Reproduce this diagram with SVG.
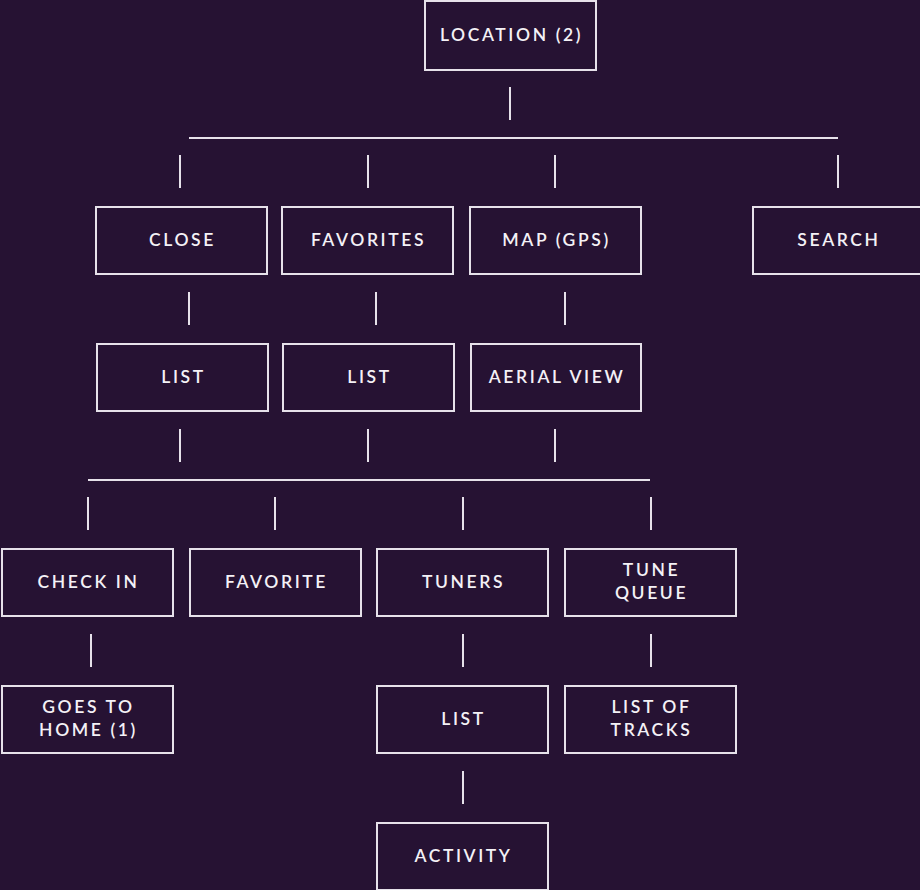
<svg xmlns="http://www.w3.org/2000/svg" width="920" height="890" viewBox="0 0 920 890">
<style>
.bg{fill:#261233}
.box{fill:none;stroke:#e6e1ea;stroke-width:2}
.ln{stroke:#e6e1ea;stroke-width:2;fill:none}
text{font-family:"Lato","Open Sans",sans-serif;font-size:17.5px;fill:#f4f1f6;text-anchor:middle;letter-spacing:2.6px;font-weight:600}
</style>
<rect class="bg" x="0" y="0" width="920" height="890"/>
<g id="connectors">
<path class="ln" d="M510 87V120 M189 138H838 M180 155V188 M368 155V188 M555 155V188 M838 155V188 M189 292V325 M376 292V325 M565 292V325 M180 429V462 M368 429V462 M555 429V462 M88 480H650 M88 497V530 M275 497V530 M463 497V530 M651 497V530 M91 634V667 M463 634V667 M651 634V667 M463 771V804"/>
</g>
<g id="location"><rect class="box" x="425" y="1" width="171" height="69"/><text x="511.5" y="41">LOCATION (2)</text></g>
<g id="close"><rect class="box" x="96" y="207" width="171" height="67"/><text x="182.5" y="246">CLOSE</text></g>
<g id="favorites"><rect class="box" x="282" y="207" width="171" height="67"/><text x="368.5" y="246">FAVORITES</text></g>
<g id="map"><rect class="box" x="470" y="207" width="171" height="67"/><text x="556.5" y="246">MAP (GPS)</text></g>
<g id="search"><rect class="box" x="753" y="207" width="171" height="67"/><text x="839" y="246">SEARCH</text></g>
<g id="list1"><rect class="box" x="97" y="344" width="171" height="67"/><text x="183.5" y="383">LIST</text></g>
<g id="list2"><rect class="box" x="283" y="344" width="171" height="67"/><text x="369.5" y="383">LIST</text></g>
<g id="aerial"><rect class="box" x="471" y="344" width="170" height="67"/><text x="557" y="383">AERIAL VIEW</text></g>
<g id="checkin"><rect class="box" x="2" y="549" width="171" height="67"/><text x="88.5" y="588">CHECK IN</text></g>
<g id="favorite"><rect class="box" x="190" y="549" width="171" height="67"/><text x="276.5" y="588">FAVORITE</text></g>
<g id="tuners"><rect class="box" x="377" y="549" width="171" height="67"/><text x="463.5" y="588">TUNERS</text></g>
<g id="tunequeue"><rect class="box" x="565" y="549" width="171" height="67"/><text x="651.5" y="576">TUNE</text><text x="651.5" y="599">QUEUE</text></g>
<g id="goeshome"><rect class="box" x="2" y="686" width="171" height="67"/><text x="88.5" y="713">GOES TO</text><text x="88.5" y="736">HOME (1)</text></g>
<g id="list3"><rect class="box" x="377" y="686" width="171" height="67"/><text x="463.5" y="725">LIST</text></g>
<g id="listtracks"><rect class="box" x="565" y="686" width="171" height="67"/><text x="651.5" y="713">LIST OF</text><text x="651.5" y="736">TRACKS</text></g>
<g id="activity"><rect class="box" x="377" y="823" width="171" height="67"/><text x="463.5" y="862">ACTIVITY</text></g>
</svg>
